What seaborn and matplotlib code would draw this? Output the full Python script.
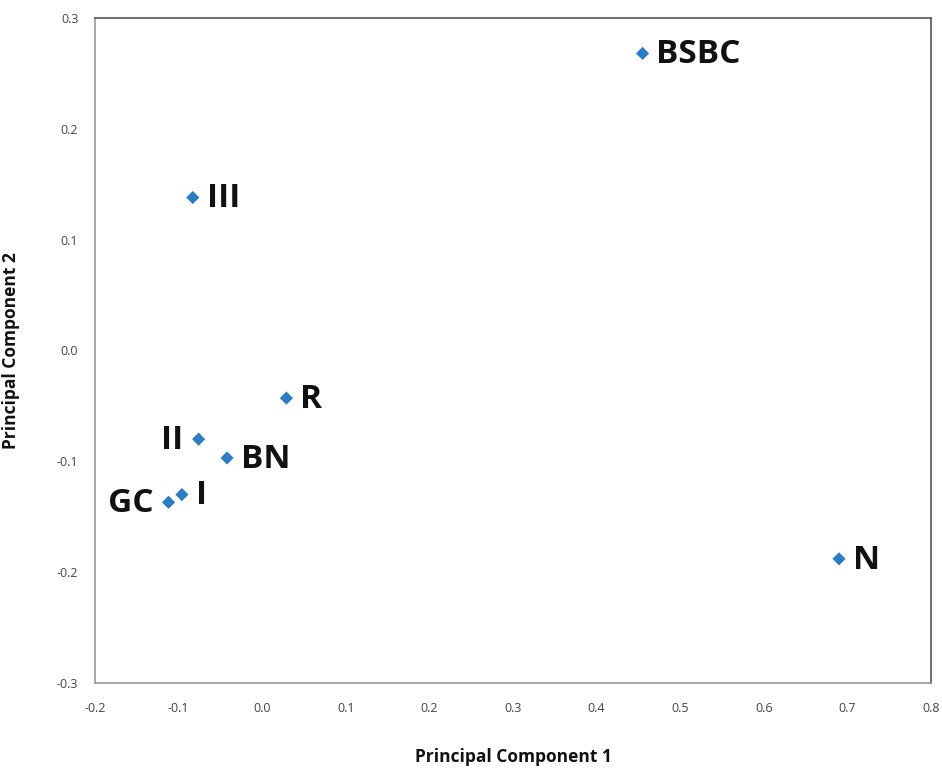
import matplotlib
matplotlib.use('Agg')
import matplotlib.pyplot as plt
import seaborn as sns
import pandas as pd

# sample labels and their PCA scores
samples = ['BSBC', 'III', 'R', 'II', 'BN', 'I', 'GC', 'N']
pc1 = [0.455, -0.083, 0.029, -0.076, -0.042, -0.096, -0.112, 0.690]
pc2 = [0.268, 0.138, -0.043, -0.080, -0.097, -0.130, -0.137, -0.188]
label_side = ['right', 'right', 'right', 'left', 'right', 'right', 'left', 'right']

xticks = [-0.2, -0.1, 0.0, 0.1, 0.2, 0.3, 0.4, 0.5, 0.6, 0.7, 0.8]
yticks = [-0.3, -0.2, -0.1, 0.0, 0.1, 0.2, 0.3]

df = pd.DataFrame({'PC1': pc1, 'PC2': pc2, 'sample': samples, 'side': label_side})

sns.set_style('white')
plt.rcParams['font.family'] = ['Open Sans', 'DejaVu Sans']

fig = plt.figure(figsize=(9.42, 7.68), dpi=100)
ax = fig.add_axes([0.1008, 0.1107, 0.8875, 0.8659])

sns.scatterplot(data=df, x='PC1', y='PC2', marker='D', s=45, color='#2a7cc4',
                edgecolor='none', ax=ax)

for _, row in df.iterrows():
    if row['side'] == 'right':
        off, ha = (10, -1), 'left'
    else:
        off, ha = (-11, -1), 'right'
    ax.annotate(row['sample'], (row['PC1'], row['PC2']), xytext=off,
                textcoords='offset points', ha=ha, va='center',
                fontsize=24, fontweight='bold', color='#111111')

ax.set_xlim(-0.2, 0.8)
ax.set_ylim(-0.3, 0.3)
ax.set_xticks(xticks)
ax.set_yticks(yticks)
ax.set_xticklabels([f'{t:.1f}' for t in xticks])
ax.set_yticklabels([f'{t:.1f}' for t in yticks])
ax.tick_params(axis='both', direction='out', length=4, width=1, color='#999999',
               labelsize=9, labelcolor='#444444', pad=10)
ax.tick_params(axis='y', pad=8)
for sp in ax.spines.values():
    sp.set_color('#999999')
    sp.set_linewidth(1.2)
ax.spines['top'].set_color('#555555')
ax.spines['right'].set_color('#555555')

ax.set_xlabel('Principal Component 1', fontsize=12.5, fontweight='bold', color='#111111')
ax.set_ylabel('Principal Component 2', fontsize=12.5, fontweight='bold', color='#111111')
ax.xaxis.set_label_coords(0.5, -0.098)
ax.yaxis.set_label_coords(-0.09, 0.5)

fig.savefig('out.png', dpi=100, facecolor='white')
